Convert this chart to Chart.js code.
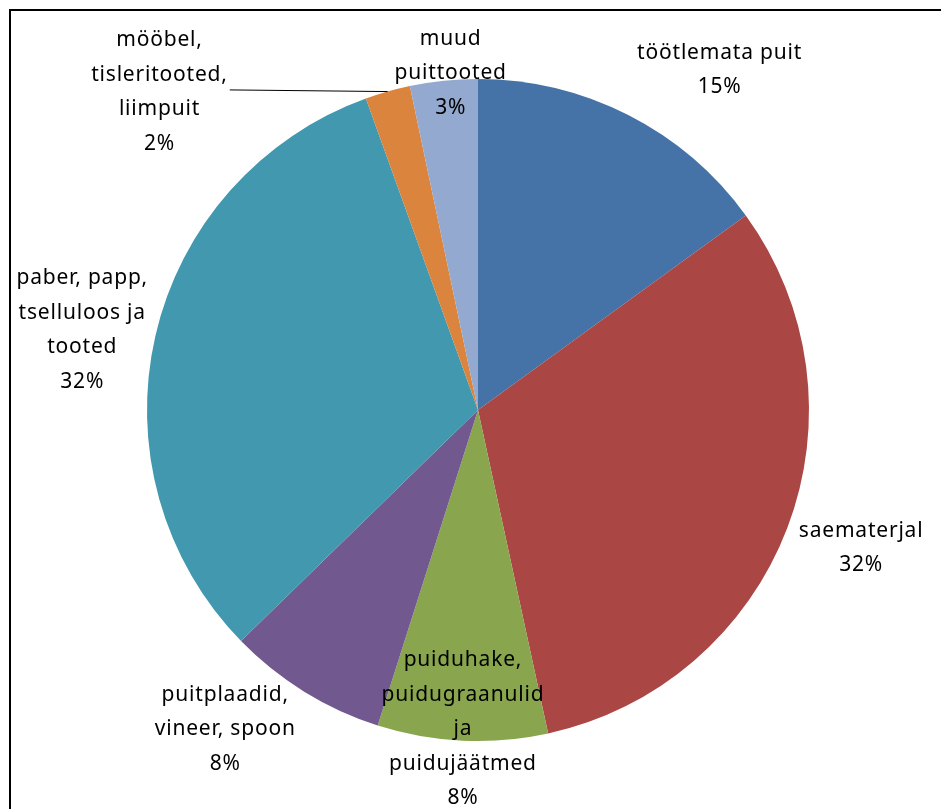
<!DOCTYPE html>
<html>
<head>
<meta charset="utf-8">
<script src="https://cdn.jsdelivr.net/npm/chart.js@4"></script>
<style>
  body { margin: 0; background: #fff; overflow: hidden; }
  #wrap { position: absolute; left: 0; top: 0; width: 941px; height: 809px; }
  #frame { position: absolute; left: 9px; top: 9px; width: 960px; height: 840px; border: 2px solid #000; }
</style>
</head>
<body>
<div id="frame"></div>
<div id="wrap"><canvas id="myChart"></canvas></div>
<script>
// Categories (label lines) and shares, clockwise from 12 o'clock
const labels = [
  ["töötlemata puit"],
  ["saematerjal"],
  ["puiduhake,", "puidugraanulid", "ja", "puidujäätmed"],
  ["puitplaadid,", "vineer, spoon"],
  ["paber, papp,", "tselluloos ja", "tooted"],
  ["mööbel,", "tisleritooted,", "liimpuit"],
  ["muud", "puittooted"]
];
const values = [15.0, 31.6, 8.3, 7.8, 31.8, 2.2, 3.3];
const percentText = ["15%", "32%", "8%", "8%", "32%", "2%", "3%"];
const colors = ["#4572A7", "#AA4643", "#89A54E", "#71588F", "#4198AF", "#DB843D", "#93A9CF"];

// label placement: angle shift (deg) from slice middle, distance as share of radius
const labelAngleShift = [8.4, -1.1, 0, 6.7, -1.5, -29.2, 1.3];
const labelDist = [1.26, 1.23, 0.965, 1.23, 1.22, 1.36, 1.02];

const lineH = 34.5;

const labelPlugin = {
  id: "sliceLabels",
  afterDatasetsDraw(chart) {
    const ctx = chart.ctx;
    const meta = chart.getDatasetMeta(0);
    ctx.save();
    ctx.font = "21px 'Noto Sans'";
    ctx.letterSpacing = "0.8px";
    ctx.fillStyle = "#000";
    ctx.textAlign = "center";
    ctx.textBaseline = "middle";
    meta.data.forEach((arc, i) => {
      const p = arc.getProps(["x", "y", "startAngle", "endAngle", "outerRadius"], true);
      const mid = (p.startAngle + p.endAngle) / 2;
      const a = mid + labelAngleShift[i] * Math.PI / 180;
      const r = p.outerRadius * labelDist[i];
      const cx = p.x + Math.cos(a) * r;
      const cy = p.y + Math.sin(a) * r;
      const lines = labels[i].concat([percentText[i]]);
      const top = cy - (lines.length - 1) * lineH / 2;
      let maxW = 0;
      lines.forEach((t, k) => {
        ctx.fillText(t, cx, top + k * lineH);
        maxW = Math.max(maxW, ctx.measureText(t).width);
      });
      // leader line for the small slice placed far out
      if (labelDist[i] > 1.3) {
        ctx.strokeStyle = "#000";
        ctx.lineWidth = 1;
        ctx.beginPath();
        ctx.moveTo(cx + maxW / 2 + 2, cy - 2);
        ctx.lineTo(p.x + Math.cos(mid) * p.outerRadius, p.y + Math.sin(mid) * p.outerRadius);
        ctx.stroke();
      }
    });
    ctx.restore();
  }
};

new Chart(document.getElementById("myChart"), {
  type: "pie",
  data: {
    labels: labels.map(l => l.join(" ")),
    datasets: [{
      data: values,
      backgroundColor: colors,
      borderWidth: 0
    }]
  },
  options: {
    responsive: true,
    maintainAspectRatio: false,
    animation: false,
    layout: { padding: { left: 147, right: 132, top: 79, bottom: 68 } },
    plugins: {
      legend: { display: false },
      tooltip: { enabled: false }
    }
  },
  plugins: [labelPlugin]
});
</script>
</body>
</html>
